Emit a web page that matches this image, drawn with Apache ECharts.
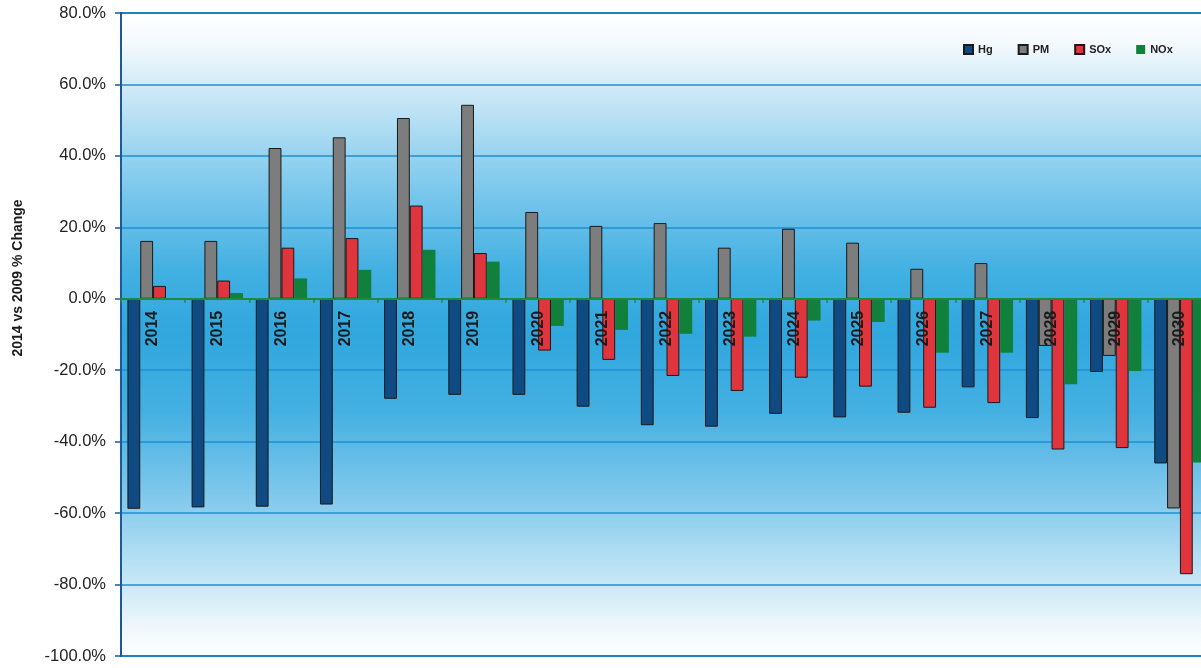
<!DOCTYPE html>
<html>
<head>
<meta charset="utf-8">
<script src="https://cdn.jsdelivr.net/npm/echarts@6/dist/echarts.min.js"></script>
<style>html,body{margin:0;padding:0;background:#fff;}#c{width:1201px;height:668px;}</style>
</head>
<body>
<div id="c"></div>
<script>
var years = ['2014','2015','2016','2017','2018','2019','2020','2021','2022','2023','2024','2025','2026','2027','2028','2029','2030'];
var hg  = [-58.8,-58.4,-58.2,-57.6,-28.0,-26.9,-26.9,-30.2,-35.4,-35.8,-32.2,-33.2,-31.9,-24.8,-33.4,-20.5,-46.1];
var pm  = [16.2,16.2,42.2,45.2,50.6,54.3,24.3,20.4,21.2,14.3,19.6,15.7,8.4,10.0,-13.2,-16.0,-58.7];
var sox = [3.6,5.1,14.3,17.0,26.1,12.8,-14.5,-17.1,-21.6,-25.8,-22.1,-24.6,-30.5,-29.2,-42.2,-41.8,-77.1];
var nox = [0.1,1.6,5.7,8.1,13.7,10.4,-7.6,-8.7,-9.8,-10.6,-6.1,-6.5,-15.1,-15.1,-23.9,-20.2,-45.8];
var yTicks = {min:-100, max:80, interval:20};
var yTitle = '2014 vs 2009 % Change';

var gridTop = 13, gridH = 643;
var zeroOffset = -gridH * (0 - yTicks.min) / (yTicks.max - yTicks.min);

var chart = echarts.init(document.getElementById('c'), null, {renderer:'canvas'});
function bar(name, data, color, border){
  return {
    name:name, type:'bar', data:data, barGap:'0%', barCategoryGap:'20%',
    itemStyle:{color:color, borderColor: border ? '#1a1a1a' : color, borderWidth: border ? 1 : 0},
    emphasis:{disabled:true}
  };
}
chart.setOption({
  animation:false,
  backgroundColor:'#ffffff',
  textStyle:{fontFamily:'Liberation Sans, Arial, sans-serif'},
  grid:{
    left:121, top:gridTop, width:1091, height:gridH,
    outerBoundsMode:'none', containLabel:false,
    show:true, borderColor:'#1b5a98', borderWidth:2,
    backgroundColor:{type:'linear',x:0,y:0,x2:0,y2:1,colorStops:[
      {offset:0,color:'#ffffff'},
      {offset:0.05,color:'#f3f9fd'},
      {offset:0.12,color:'#cfe9f7'},
      {offset:0.25,color:'#88cdee'},
      {offset:0.40,color:'#42b0e2'},
      {offset:0.50,color:'#30a7de'},
      {offset:0.62,color:'#44b0e2'},
      {offset:0.75,color:'#80c8ec'},
      {offset:0.88,color:'#c5e6f6'},
      {offset:0.95,color:'#eef7fc'},
      {offset:1,color:'#ffffff'}
    ]}
  },
  legend:{
    left:958, top:39, itemWidth:9, itemHeight:9, itemGap:25, icon:'rect',
    textStyle:{fontSize:11, fontWeight:'bold', color:'#222'},
    data:['Hg','PM','SOx','NOx']
  },
  xAxis:{
    type:'category', data:years, z:10, position:'bottom', offset:zeroOffset,
    axisLine:{onZero:false, lineStyle:{color:'#1f8a3b', width:2}},
    axisTick:{show:true, length:4, lineStyle:{color:'#1f8a3b', width:1.5}},
    axisLabel:{rotate:90, margin:12, fontSize:16, fontWeight:'bold', color:'#1a1a1a'},
    splitLine:{show:false}
  },
  yAxis:{
    type:'value', min:yTicks.min, max:yTicks.max, interval:yTicks.interval,
    axisLine:{show:true, lineStyle:{color:'#1b5a98', width:2}},
    axisTick:{show:true, length:6, lineStyle:{color:'#1b5a98', width:1.5}},
    axisLabel:{formatter:function(v){return v.toFixed(1)+'%';}, fontSize:16.5, color:'#222', margin:15},
    splitLine:{show:true, lineStyle:{color:'#1e90d0', width:1.5}}
  },
  graphic:[{
    type:'text', x:18, y:278, rotation:Math.PI/2,
    style:{text:yTitle, fontSize:14, fontWeight:'bold', fill:'#1a1a1a', align:'center', verticalAlign:'middle', fontFamily:'Liberation Sans, Arial, sans-serif'}
  }],
  series:[
    bar('Hg', hg, '#0f4a82', true),
    bar('PM', pm, '#7d7d7d', true),
    bar('SOx', sox, '#e0353c', true),
    bar('NOx', nox, '#10803a', false)
  ]
});
</script>
</body>
</html>
